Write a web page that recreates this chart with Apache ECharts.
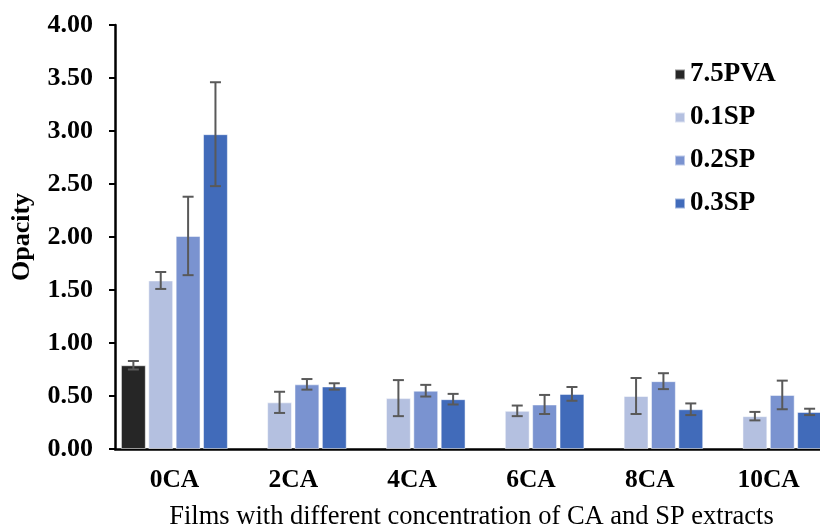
<!DOCTYPE html>
<html>
<head>
<meta charset="utf-8">
<script src="https://cdn.jsdelivr.net/npm/echarts@6/dist/echarts.min.js"></script>
<style>
  html, body { margin: 0; padding: 0; background: #fff; }
  #chart { width: 820px; height: 529px; }
</style>
</head>
<body>
<div id="chart"></div>
<script>
// Film samples (x categories)
const categories = ['0CA', '2CA', '4CA', '6CA', '8CA', '10CA'];

// Series names
const seriesNames = ['7.5PVA', '0.1SP', '0.2SP', '0.3SP'];

// Mean opacity per film
const pva   = [0.79, null, null, null, null, null];
const sp01  = [1.59, 0.44, 0.48, 0.36, 0.50, 0.31];
const sp02  = [2.01, 0.61, 0.55, 0.42, 0.64, 0.51];
const sp03  = [2.97, 0.59, 0.47, 0.52, 0.375, 0.35];

// Standard deviations
const pvaErr  = [0.04, null, null, null, null, null];
const sp01Err = [0.08, 0.10, 0.17, 0.05, 0.17, 0.04];
const sp02Err = [0.37, 0.05, 0.055, 0.09, 0.075, 0.135];
const sp03Err = [0.49, 0.03, 0.05, 0.065, 0.055, 0.03];

// Y-axis tick values
const yTicks = [0, 0.5, 1, 1.5, 2, 2.5, 3, 3.5, 4];

const means = [pva, sp01, sp02, sp03];
const errs = [pvaErr, sp01Err, sp02Err, sp03Err];
const colors = ['#262626', '#b4c0e0', '#7a93d0', '#416bba'];

const CAT_GAP = 0.10;   // barCategoryGap fraction
const BAR_GAP = 0.10;   // barGap fraction of bar width
const SERIF = '"Liberation Serif", "Times New Roman", serif';

function errorBarSeries(k) {
  const data = categories.map((c, i) => {
    const m = means[k][i], e = errs[k][i];
    if (m == null || e == null) return [i, null, null];
    return [i, m - e, m + e];
  });
  return {
    type: 'custom',
    name: seriesNames[k] + ' SD',
    silent: true,
    z: 10,
    data: data,
    encode: { x: 0, y: [1, 2] },
    renderItem: function (params, api) {
      const lo = api.value(1), hi = api.value(2);
      if (lo == null || isNaN(lo)) return null;
      const cat = api.value(0);
      const band = api.size([1, 0])[0];
      const barW = band * (1 - CAT_GAP) / (4 + 3 * BAR_GAP);
      const step = barW * (1 + BAR_GAP);
      const off = (k - 1.5) * step;
      const pLo = api.coord([cat, lo]);
      const pHi = api.coord([cat, hi]);
      const x = pLo[0] + off;
      const hw = 5.5;
      const style = { stroke: '#595959', lineWidth: 2 };
      return {
        type: 'group',
        children: [
          { type: 'line', shape: { x1: x, y1: pLo[1], x2: x, y2: pHi[1] }, style: style },
          { type: 'line', shape: { x1: x - hw, y1: pLo[1], x2: x + hw, y2: pLo[1] }, style: style },
          { type: 'line', shape: { x1: x - hw, y1: pHi[1], x2: x + hw, y2: pHi[1] }, style: style }
        ]
      };
    }
  };
}

const barSeries = seriesNames.map((name, k) => ({
  type: 'bar',
  name: name,
  data: means[k],
  barGap: (BAR_GAP * 100) + '%',
  barCategoryGap: (CAT_GAP * 100) + '%',
  itemStyle: { color: colors[k], borderColor: 'rgba(255,255,255,0.5)', borderWidth: 1 },
  emphasis: { disabled: true }
}));

const chart = echarts.init(document.getElementById('chart'), null, { renderer: 'canvas' });
chart.setOption({
  animation: false,
  backgroundColor: '#ffffff',
  color: colors,
  grid: { left: 115, right: -8, top: 25, bottom: 80, containLabel: false, outerBoundsMode: 'none' },
  legend: {
    data: seriesNames,
    orient: 'vertical',
    left: 669,
    top: 56,
    itemWidth: 10,
    itemHeight: 10,
    itemGap: 16,
    icon: 'rect',
    textStyle: { fontFamily: SERIF, fontWeight: 'bold', fontSize: 27, color: '#000', lineHeight: 27 }
  },
  xAxis: {
    type: 'category',
    data: categories,
    name: 'Films with different concentration of CA and SP extracts',
    nameLocation: 'middle',
    nameGap: 55,
    nameTextStyle: { fontFamily: SERIF, fontSize: 26.5, color: '#000' },
    axisLine: { lineStyle: { color: '#000', width: 2.5 } },
    axisTick: { alignWithLabel: true, length: 5, lineStyle: { color: '#000', width: 2.5 } },
    axisLabel: { fontFamily: SERIF, fontWeight: 'bold', fontSize: 25.5, color: '#000', margin: 18 }
  },
  yAxis: {
    type: 'value',
    min: yTicks[0],
    max: yTicks[yTicks.length - 1],
    interval: yTicks[1] - yTicks[0],
    name: 'Opacity',
    nameLocation: 'middle',
    nameGap: 80,
    nameRotate: 90,
    nameTextStyle: { fontFamily: SERIF, fontWeight: 'bold', fontSize: 26, color: '#000' },
    splitLine: { show: false },
    axisLine: { show: true, lineStyle: { color: '#000', width: 2.5 } },
    axisTick: { show: true, length: 6, lineStyle: { color: '#000', width: 2 } },
    axisLabel: {
      fontFamily: SERIF, fontWeight: 'bold', fontSize: 26, color: '#000', margin: 22,
      formatter: v => v.toFixed(2)
    }
  },
  series: barSeries.concat(seriesNames.map((n, k) => errorBarSeries(k)))
});
</script>
</body>
</html>
